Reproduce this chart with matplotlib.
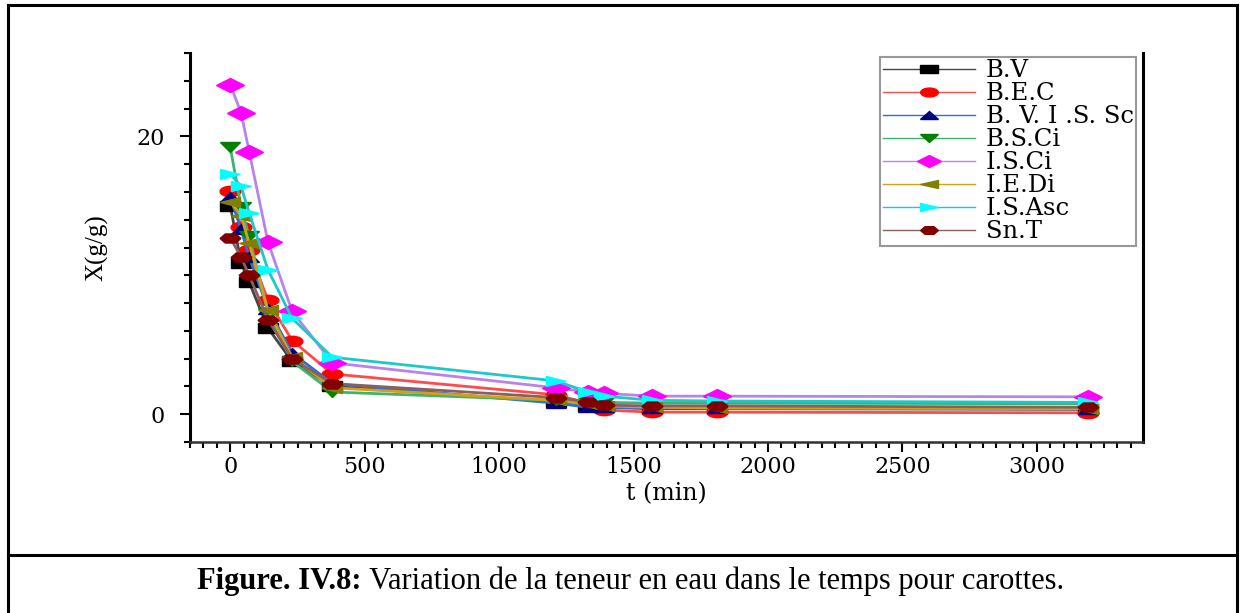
import numpy as np
import matplotlib
matplotlib.use('Agg')
import matplotlib.pyplot as plt
from matplotlib.lines import Line2D
from matplotlib.markers import MarkerStyle
from matplotlib.transforms import Affine2D
from matplotlib.ticker import MultipleLocator

plt.rcParams['font.family'] = ['Liberation Serif', 'DejaVu Serif']

# temps de sechage (min)
t = [0, 40, 70, 140, 230, 380, 1210, 1330, 1390, 1570, 1810, 3190]

# teneur en eau X (g/g)
bv      = [15.0, 10.9, 9.5, 6.2, 3.8, 2.0, 0.9, 0.6, 0.5, 0.4, 0.4, 0.35]
bec     = [16.1, 13.5, 11.8, 8.2, 5.3, 2.9, 1.4, 0.8, 0.3, 0.15, 0.15, 0.1]
bvissc  = [15.6, 13.3, 11.3, 7.6, 4.4, 2.2, 0.8, 0.5, 0.5, 0.45, 0.45, 0.4]
bsci    = [19.2, 14.9, 12.8, 7.3, 3.8, 1.6, 1.0, 0.9, 0.85, 0.8, 0.8, 0.75]
isci    = [23.7, 21.7, 18.9, 12.4, 7.4, 3.7, 1.9, 1.6, 1.5, 1.3, 1.3, 1.25]
iedi    = [15.3, 14.3, 12.3, 7.5, 4.1, 1.9, 1.0, 0.7, 0.6, 0.5, 0.45, 0.4]
isasc   = [17.3, 16.4, 14.5, 10.4, 6.9, 4.1, 2.4, 1.6, 1.3, 1.0, 0.95, 0.85]
snt     = [12.7, 11.3, 10.0, 6.8, 4.0, 2.2, 1.2, 0.9, 0.65, 0.6, 0.6, 0.5]

noms = ['B.V', 'B.E.C', 'B. V. I .S. Sc', 'B.S.Ci', 'I.S.Ci', 'I.E.Di', 'I.S.Asc', 'Sn.T']
series = [bv, bec, bvissc, bsci, isci, iedi, isasc, snt]
marqueurs = ['s', 'o', '^', 'v', 'D', '<', '>', 'H']
c_ligne = ['#454545', '#ff4a4a', '#2a6fdc', '#3cb371', '#b884e8', '#d4a017', '#1ec8c8', '#8b5f5f']
c_marq = ['black', 'red', '#000080', 'green', 'magenta', 'olive', 'cyan', 'maroon']

fig = plt.figure(figsize=(12.44, 6.13), dpi=100)
ax = fig.add_axes([190/1244, 1-442/613, (1143-190)/1244, (442-53)/613])

etire = Affine2D().scale(2.0, 1.0)
handles = []
for y, nom, m, cl, cm in zip(series, noms, marqueurs, c_ligne, c_marq):
    ms = MarkerStyle(m, transform=etire)
    sz = 7.5 if m != 'D' else 7
    ax.plot(t, y, color=cl, linewidth=2.0, marker=ms, markersize=sz,
            markerfacecolor=cm, markeredgecolor=cm, zorder=3)
    handles.append(Line2D([], [], color=cl, linewidth=1.0, marker=ms,
                          markersize=sz * 0.85, markerfacecolor=cm, markeredgecolor=cm))

ax.set_xlim(-150, 3395)
ax.set_ylim(-2, 26)
ax.xaxis.set_major_locator(MultipleLocator(500))
ax.xaxis.set_minor_locator(MultipleLocator(50))
ax.yaxis.set_major_locator(MultipleLocator(20))
ax.yaxis.set_minor_locator(MultipleLocator(2))
ax.tick_params(axis='both', which='major', direction='out', length=7, width=1.5)
ax.tick_params(axis='both', which='minor', direction='out', length=4, width=1.5)
ax.tick_params(axis='y', pad=11)
ax.tick_params(axis='x', pad=3)
for lab in ax.get_xticklabels() + ax.get_yticklabels():
    lab.set_family('DejaVu Serif')
    lab.set_fontsize(16)

ax.spines['top'].set_visible(False)
ax.spines['left'].set_linewidth(2.2)
ax.spines['bottom'].set_linewidth(1.8)
ax.spines['right'].set_linewidth(2.2)
ax.spines['bottom'].set_color('#333333')

ax.set_xlabel('t (min)', fontsize=17, family='DejaVu Serif', labelpad=3)
ax.set_ylabel('X(g/g)', fontsize=18, labelpad=20)

leg = ax.legend(handles, noms, loc='upper right', bbox_to_anchor=(0.993, 0.99),
                prop={'family': 'DejaVu Serif', 'size': 17.5}, frameon=True,
                fancybox=False, edgecolor='#808080', handlelength=3.8,
                handletextpad=0.45, labelspacing=0.0, borderpad=0.1,
                borderaxespad=0)
leg.get_frame().set_linewidth(1.5)

# cadre du tableau + legende de la figure
for xs, ys in [([8, 1237], [5, 5]), ([8, 8], [5, 613]), ([1237, 1237], [5, 613]),
               ([8, 1237], [555, 555])]:
    fig.add_artist(Line2D([x/1244 for x in xs], [1-v/613 for v in ys],
                          color='black', linewidth=2.2))

t1 = fig.text(197/1244, 1-581/613, 'Figure. IV.8:', fontsize=22, fontweight='bold',
              ha='left', va='center')
ax.annotate(' Variation de la teneur en eau dans le temps pour carottes.',
            xy=(1, 0), xycoords=t1, fontsize=22, ha='left', va='bottom',
            annotation_clip=False)

fig.savefig('out.png', dpi=100)
